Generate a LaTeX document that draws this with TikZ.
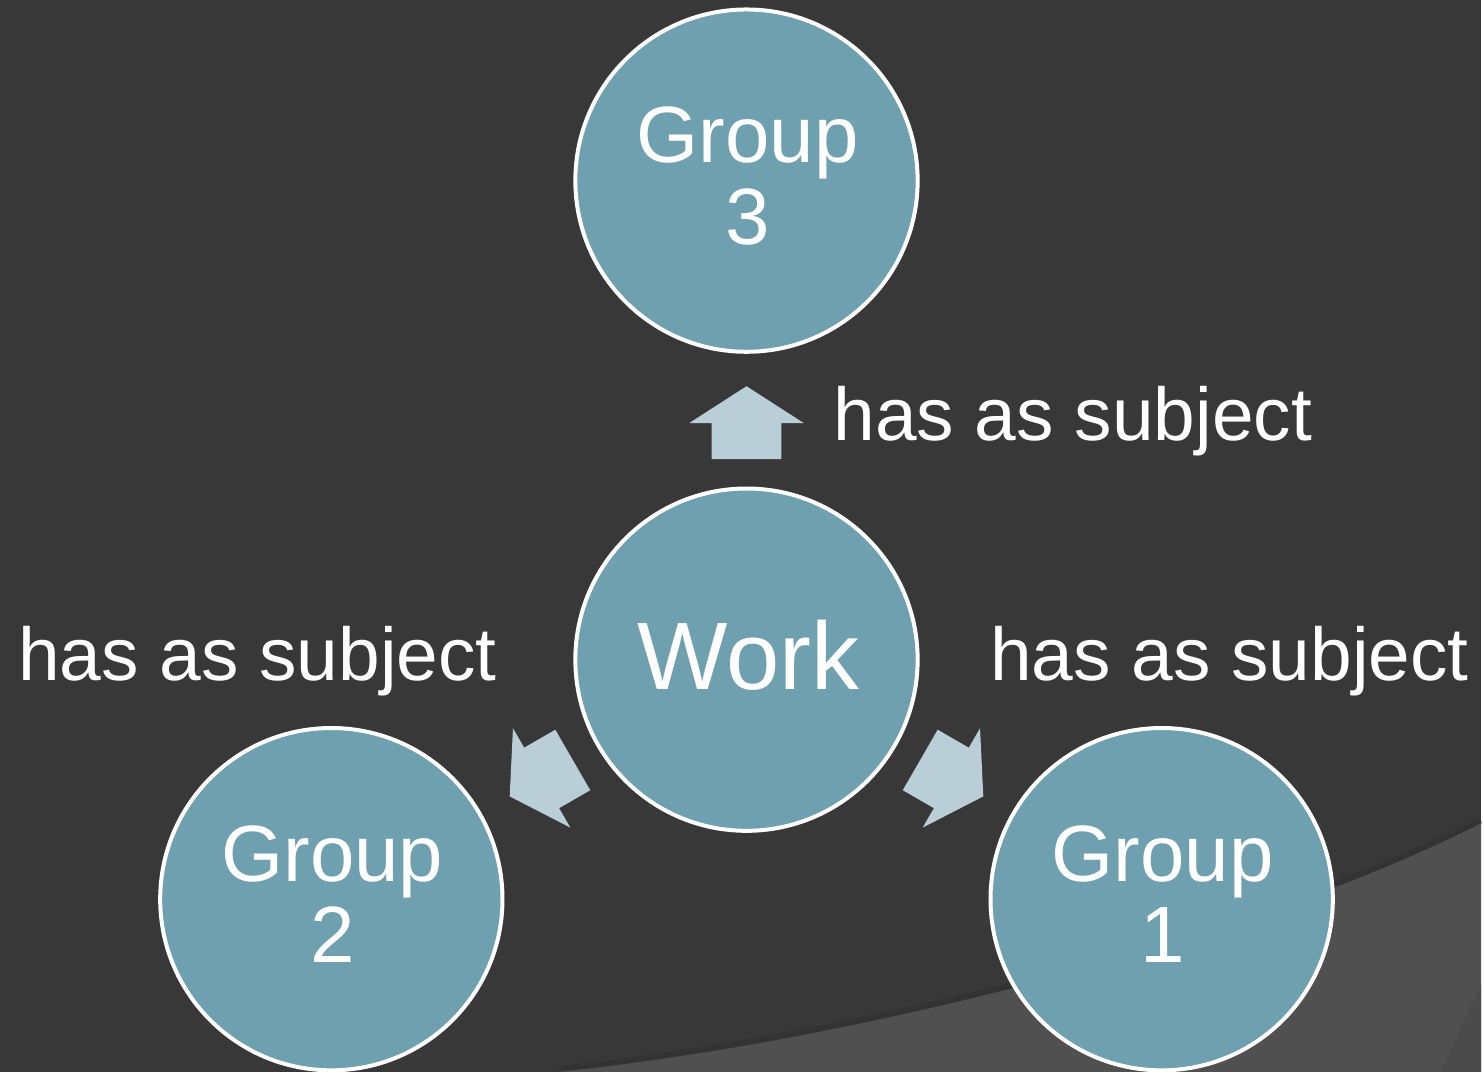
\documentclass[tikz,border=0pt]{standalone}
\usepackage{fontspec}
\setmainfont{Liberation Sans}
\usetikzlibrary{calc}
\definecolor{bgdark}{HTML}{383838}
\definecolor{bglight}{HTML}{505050}
\definecolor{bgshade}{HTML}{4A4A4A}
\definecolor{bgshadow}{HTML}{2E2E2E}
\definecolor{circfill}{HTML}{6FA0B0}
\definecolor{arrowfill}{HTML}{B9CED6}
\begin{document}
\begin{tikzpicture}[x=1pt,y=1pt,
  grp/.style={circle, fill=circfill, draw=white, line width=4pt, minimum size=343pt, inner sep=0pt},
  grptext/.style={text=white, font=\fontsize{80}{82}\selectfont, align=center, inner sep=0pt},
  worktext/.style={text=white, font=\fontsize{96}{100}\selectfont, inner sep=0pt},
  rel/.style={text=white, font=\fontsize{75}{80}\selectfont, inner sep=0pt, anchor=base west},
  blockarrow/.style={fill=arrowfill}]
% background
\fill[bgdark] (0,0) rectangle (1484,1074);
\draw[bgshadow, line width=6pt, opacity=0.45] (560,3) .. controls (850,33) and (1250,133) .. (1484,252);
\fill[bglight] (560,0) .. controls (850,30) and (1250,130) .. (1484,249) -- (1484,0) -- cycle;
\fill[bgshade] (1444,0) .. controls (1460,35) .. (1484,87) -- (1484,0) -- cycle;
\useasboundingbox (0,0) rectangle (1484,1074);
% circles
\node[grp] (work) at (748,413) {};
\node[grp] (g3) at (748,893) {};
\node[grp] (g2) at (332,173) {};
\node[grp] (g1) at (1164,173) {};
% circle texts
\node[worktext, xshift=2pt, yshift=4.5pt] (workt) at (work.center) {Work};
\node[grptext, xshift=1pt, yshift=5pt] (g3t) at (g3.center) {Group\\3};
\node[grptext, xshift=1pt, yshift=5pt] (g2t) at (g2.center) {Group\\2};
\node[grptext, xshift=1pt, yshift=5pt] (g1t) at (g1.center) {Group\\1};
% block arrows from Work outward
\foreach \a in {90,210,330} {
  \fill[blockarrow, shift={(work.center)}, rotate=\a-90]
    (-35,201) -- (35,201) -- (35,237) -- (57.5,237) -- (0,274) -- (-57.5,237) -- (-35,237) -- cycle;
}
% relation labels
\node[rel] (r3) at (835,632.3) {has as subject};
\node[rel] (r2) at (18,392.3) {has as subject};
\node[rel] (r1) at (992,392.3) {has as subject};
\end{tikzpicture}
\end{document}
